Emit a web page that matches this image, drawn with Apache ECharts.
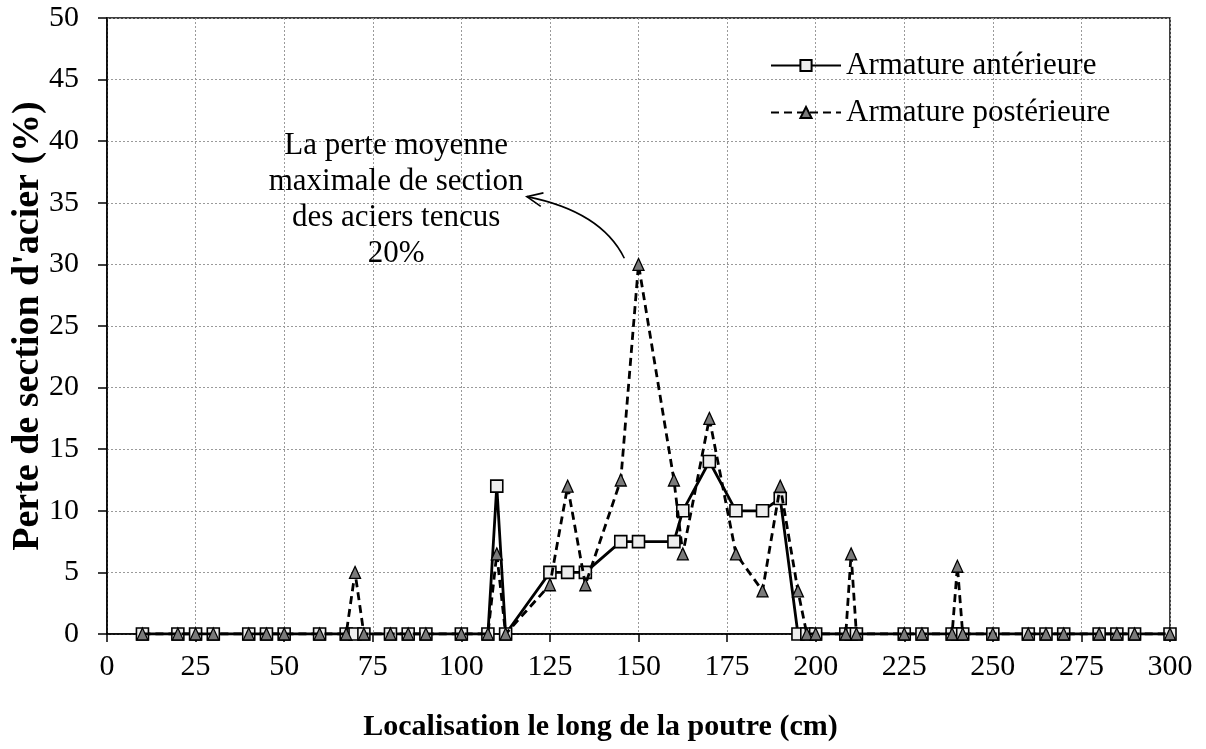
<!DOCTYPE html>
<html>
<head>
<meta charset="utf-8">
<script src="https://cdn.jsdelivr.net/npm/echarts@6/dist/echarts.min.js"></script>
<style>
html,body{margin:0;padding:0;background:#fff;}
#c{width:1206px;height:749px;}
</style>
</head>
<body>
<div id="c"></div>
<script>
// Positions along the beam (cm)
const positions = [10,20,25,30,40,45,50,60,67.5,70,72.5,80,85,90,100,107.5,110,112.5,125,130,135,145,150,160,162.5,170,177.5,185,190,195,197.5,200,208.5,210,211.5,225,230,238.5,240,241.5,250,260,265,270,280,285,290,300];
// Armature antérieure (%)
const anterieure = [0,0,0,0,0,0,0,0,0,0,0,0,0,0,0,0,12,0,5,5,5,7.5,7.5,7.5,10,14,10,10,11,0,0,0,0,0,0,0,0,0,0,0,0,0,0,0,0,0,0,0];
// Armature postérieure (%)
const posterieure = [0,0,0,0,0,0,0,0,0,5,0,0,0,0,0,0,6.5,0,4,12,4,12.5,30,12.5,6.5,17.5,6.5,3.5,12,3.5,0,0,0,6.5,0,0,0,0,5.5,0,0,0,0,0,0,0,0,0];
const seriesNames = ['Armature antérieure','Armature postérieure'];
const xTicks = {min:0,max:300,interval:25};
const yTicks = {min:0,max:50,interval:5};
const annotationText = 'La perte moyenne\nmaximale de section\ndes aciers tencus\n20%';

const FONT = 'Liberation Serif';
const chart = echarts.init(document.getElementById('c'));
const pairs = (xs, ys) => xs.map((x,i)=>[x, ys[i]]);

const option = {
  animation:false,
  backgroundColor:'#fff',
  textStyle:{fontFamily:FONT,color:'#000'},
  grid:{left:107,right:36,top:18,bottom:115,show:true,borderColor:'#000',borderWidth:1.5,
        containLabel:false,outerBoundsMode:'none'},
  legend:{
    orient:'vertical',left:770,top:50,padding:0,itemWidth:70,itemHeight:14,itemGap:16,
    textStyle:{fontFamily:FONT,fontSize:31,color:'#000'},
    data:seriesNames
  },
  xAxis:{
    type:'value',min:xTicks.min,max:xTicks.max,interval:xTicks.interval,
    name:'Localisation le long de la poutre (cm)',nameLocation:'middle',nameGap:78,
    nameTextStyle:{fontFamily:FONT,fontSize:30,fontWeight:'bold',color:'#000',padding:[0,76,0,0]},
    axisLine:{lineStyle:{color:'#000',width:1.5}},
    axisTick:{show:true,length:8,inside:false,lineStyle:{color:'#000',width:1.5}},
    axisLabel:{fontFamily:FONT,fontSize:30,color:'#000',margin:18},
    splitLine:{show:true,lineStyle:{color:'#9a9a9a',type:[2,2],width:1}}
  },
  yAxis:{
    type:'value',min:yTicks.min,max:yTicks.max,interval:yTicks.interval,
    name:"Perte de section d'acier (%)",nameLocation:'middle',nameGap:60,nameRotate:90,
    nameMoveOverlap:false,
    nameTextStyle:{fontFamily:FONT,fontSize:38,fontWeight:'bold',color:'#000'},
    axisLine:{show:true,lineStyle:{color:'#000',width:1.5}},
    axisTick:{show:true,length:9,inside:false,lineStyle:{color:'#000',width:1.5}},
    axisLabel:{fontFamily:FONT,fontSize:30,color:'#000',margin:28},
    splitLine:{show:true,lineStyle:{color:'#9a9a9a',type:[2,2],width:1}}
  },
  series:[
    {
      name:seriesNames[0],type:'line',data:pairs(positions,anterieure),
      symbol:'rect',symbolSize:12,
      itemStyle:{color:'#eeeeee',borderColor:'#000',borderWidth:1.6},
      lineStyle:{color:'#000',width:2.8,type:'solid'},
      z:2
    },
    {
      name:seriesNames[1],type:'line',data:pairs(positions,posterieure),
      symbol:'triangle',symbolSize:[11,12],
      itemStyle:{color:'#7a7a7a',borderColor:'#000',borderWidth:1.3},
      lineStyle:{color:'#000',width:2.8,type:[8,5]},
      z:3
    }
  ]
};
chart.setOption(option);

// Annotation text and curved arrow, placed via data coordinates
const p = (x,y)=>chart.convertToPixel({gridIndex:0},[x,y]);
const tc = p(81.6,41.1);
const s = p(146,30.5), cp = p(139.5,34.3), e = p(118.5,35.5);
const dx = cp[0]-e[0], dy = cp[1]-e[1];
const L = Math.hypot(dx,dy), ux = dx/L, uy = dy/L;
const ang = 24*Math.PI/180, hl = 17;
const rot = (a)=>[ux*Math.cos(a)-uy*Math.sin(a), ux*Math.sin(a)+uy*Math.cos(a)];
const r1 = rot(ang), r2 = rot(-ang);
chart.setOption({
  graphic:[
    {type:'text',x:tc[0],y:tc[1],z:10,
      style:{text:annotationText,fontFamily:FONT,fontSize:31,lineHeight:36,fill:'#000',align:'center',verticalAlign:'top'}},
    {type:'bezierCurve',z:10,shape:{x1:s[0],y1:s[1],x2:e[0],y2:e[1],cpx1:cp[0],cpy1:cp[1]},
      style:{stroke:'#000',lineWidth:1.6,fill:null}},
    {type:'polyline',z:10,shape:{points:[[e[0]+r1[0]*hl,e[1]+r1[1]*hl],[e[0],e[1]],[e[0]+r2[0]*hl,e[1]+r2[1]*hl]]},
      style:{stroke:'#000',lineWidth:1.6,fill:null}}
  ]
});
</script>
</body>
</html>
